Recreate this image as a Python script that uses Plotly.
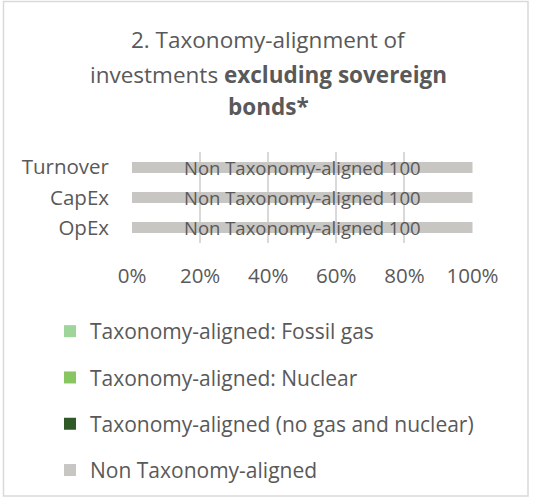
import plotly.graph_objects as go

# Categories (bottom to top) and the share of each taxonomy class, in %
categories = ["OpEx", "CapEx", "Turnover"]
series_names = [
    "Taxonomy-aligned: Fossil gas",
    "Taxonomy-aligned: Nuclear",
    "Taxonomy-aligned (no gas and nuclear)",
    "Non Taxonomy-aligned",
]
fossil_gas = [0, 0, 0]
nuclear = [0, 0, 0]
aligned_no_gas_nuclear = [0, 0, 0]
non_aligned = [100, 100, 100]
series_values = [fossil_gas, nuclear, aligned_no_gas_nuclear, non_aligned]
series_colors = ["#9fd49a", "#88c661", "#2f5a28", "#c8c6c3"]
x_ticks = [0, 20, 40, 60, 80, 100]

title_lines = [
    "2. Taxonomy-alignment of",
    "investments <b>excluding sovereign</b>",
    "<b>bonds*</b>",
]

W, H = 534, 499
TEXT = "#595959"
FONT = "Open Sans"

fig = go.Figure()
for i, (name, vals, col) in enumerate(zip(series_names, series_values, series_colors)):
    show_text = name == "Non Taxonomy-aligned"
    fig.add_trace(go.Bar(
        name=name,
        y=categories,
        x=vals,
        orientation="h",
        marker=dict(color=col, line=dict(width=0)),
        width=0.36,
        legendgroup=f"g{i}",
        text=[f"{name} {v}" for v in vals] if show_text else None,
        texttemplate="%{text}" if show_text else None,
        textposition="inside" if show_text else "none",
        insidetextanchor="middle",
        constraintext="none",
        textfont=dict(color=TEXT, size=18.5, family=FONT),
        hoverinfo="skip",
    ))

# plot area in pixels
x0, x1 = 132, 472.5
y_top, y_bot = 152, 243

fig.update_layout(
    width=W, height=H,
    margin=dict(l=0, r=0, t=0, b=0, autoexpand=False),
    paper_bgcolor="white",
    plot_bgcolor="white",
    barmode="stack",
    font=dict(family=FONT, color=TEXT),
    showlegend=True,
    legend=dict(
        x=50 / W, y=1 - 311 / H, xanchor="left", yanchor="top",
        traceorder="grouped",
        tracegroupgap=16,
        font=dict(size=21, color=TEXT, family=FONT),
        bgcolor="rgba(0,0,0,0)",
    ),
    xaxis=dict(
        domain=[x0 / W, x1 / W],
        range=[0, 100],
        tickvals=x_ticks,
        ticktext=[f"{v}%" for v in x_ticks],
        showgrid=True, gridcolor="#d9d9d9", gridwidth=1.5,
        zeroline=False, showline=False, ticks="",
        ticklabelstandoff=18,
        automargin=False,
        tickfont=dict(size=20.5, color=TEXT, family=FONT),
        fixedrange=True,
    ),
    yaxis=dict(
        domain=[1 - y_bot / H, 1 - y_top / H],
        range=[-0.5, 2.5],
        categoryorder="array", categoryarray=categories,
        showgrid=False, zeroline=False, showline=False, ticks="",
        ticklabelstandoff=22,
        automargin=False,
        tickfont=dict(size=20.5, color=TEXT, family=FONT),
        fixedrange=True,
    ),
    shapes=[dict(
        type="rect", xref="paper", yref="paper",
        x0=3.5 / W, x1=528 / W, y0=1 - 496 / H, y1=1 - 1.5 / H,
        line=dict(color="#d9d9d9", width=1.5), fillcolor="rgba(0,0,0,0)",
        layer="below",
    )],
)

# three-line chart heading
for text, yc in zip(title_lines, [40, 74, 106]):
    fig.add_annotation(
        text=text, x=268 / W, y=1 - yc / H, xref="paper", yref="paper",
        xanchor="center", yanchor="middle", showarrow=False,
        font=dict(size=22.5, color=TEXT, family=FONT),
    )

fig.write_html("out.html")
